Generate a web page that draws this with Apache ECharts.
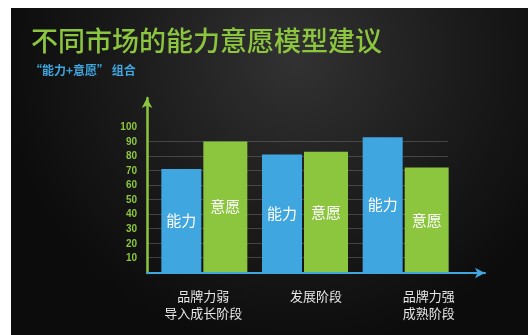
<!DOCTYPE html>
<html>
<head>
<meta charset="utf-8">
<style>
  html, body { margin: 0; padding: 0; background: #fff; }
  #chart { width: 528px; height: 335px; }
</style>
<script src="https://cdn.jsdelivr.net/npm/echarts@6/dist/echarts.min.js"></script>
</head>
<body>
<div id="chart"></div>
<script>
var categories = ['品牌力弱\n导入成长阶段', '发展阶段', '品牌力强\n成熟阶段']
var abilityData = [71, 81, 93]
var willingnessData = [90, 83, 72]
var yTicks = [0, 10, 20, 30, 40, 50, 60, 70, 80, 90, 100, 110, 120]

var cjk = '"Noto Sans CJK SC", sans-serif'
var chart = echarts.init(document.getElementById('chart'))

// split lines only between 10 and 90
var splitColors = yTicks.map(function (v) {
  return v === 0 || v >= 100 ? 'rgba(0,0,0,0)' : 'rgba(120,120,120,0.45)'
})

chart.setOption({
  backgroundColor: '#fff',
  animation: false,
  graphic: [
    {
      type: 'rect',
      z: -10,
      shape: { x: 11, y: 8, width: 517, height: 327 },
      style: {
        fill: new echarts.graphic.RadialGradient(0.55, 0.15, 0.9, [
          { offset: 0, color: '#323232' },
          { offset: 0.6, color: '#1a1a1a' },
          { offset: 1, color: '#0c0c0c' }
        ])
      }
    },
    {
      type: 'text',
      left: 31,
      top: 27,
      style: {
        text: '不同市场的能力意愿模型建议',
        fill: '#8cc63f',
        font: '500 27px ' + cjk
      }
    },
    {
      type: 'text',
      left: 30,
      top: 64,
      style: {
        text: '“能力+意愿” 组合',
        fill: '#3fa6e0',
        font: 'bold 12px ' + cjk
      }
    }
  ],
  grid: [
    { left: 154, right: 72, top: 98, bottom: 63 },
    { left: 147, right: 43, top: 98, bottom: 62 },
    { left: 148, right: 80, top: 98, bottom: 63 }
  ],
  xAxis: [
    {
      gridIndex: 0,
      type: 'category',
      data: categories,
      axisLine: { show: false },
      axisTick: { show: false },
      axisLabel: { show: false }
    },
    {
      gridIndex: 1,
      type: 'category',
      data: categories,
      axisLine: {
        symbol: ['none', 'arrow'],
        symbolSize: [8, 10],
        lineStyle: { color: '#3fa6e0', width: 2 }
      },
      axisTick: { show: false },
      axisLabel: {
        color: '#e6e6e6',
        fontFamily: cjk,
        fontSize: 13,
        lineHeight: 17,
        margin: 15
      }
    },
    {
      gridIndex: 2,
      type: 'category',
      data: categories,
      show: false
    }
  ],
  yAxis: [
    {
      gridIndex: 0,
      type: 'value',
      min: 0,
      max: 120,
      show: false
    },
    {
      gridIndex: 1,
      type: 'value',
      min: 0,
      max: 120,
      interval: 10,
      axisLine: {
        show: true,
        symbol: ['none', 'arrow'],
        symbolSize: [8, 10],
        lineStyle: { color: '#8cc63f', width: 2.5 }
      },
      axisTick: { show: false },
      axisLabel: {
        color: '#8cc63f',
        fontWeight: 'bold',
        fontSize: 10,
        margin: 10,
        formatter: function (v) { return v === 0 || v > 100 ? '' : v }
      },
      splitLine: { show: false }
    },
    {
      gridIndex: 2,
      type: 'value',
      min: 0,
      max: 120,
      interval: 10,
      axisLine: { show: false },
      axisTick: { show: false },
      axisLabel: { show: false },
      splitLine: {
        lineStyle: { color: splitColors, width: 1 }
      }
    }
  ],
  series: [
    {
      name: '能力',
      type: 'bar',
      xAxisIndex: 0,
      yAxisIndex: 0,
      data: abilityData,
      barWidth: 40,
      barGap: '5%',
      itemStyle: { color: '#3fa6e0' },
      label: {
        show: true,
        position: 'inside',
        formatter: '{a}',
        color: '#fff',
        fontFamily: cjk,
        fontSize: 15
      }
    },
    {
      name: '意愿',
      type: 'bar',
      xAxisIndex: 0,
      yAxisIndex: 0,
      data: willingnessData,
      barWidth: 44,
      itemStyle: { color: '#8cc63f' },
      label: {
        show: true,
        position: 'inside',
        formatter: '{a}',
        color: '#fff',
        fontFamily: cjk,
        fontSize: 15
      }
    }
  ]
})
</script>
</body>
</html>
